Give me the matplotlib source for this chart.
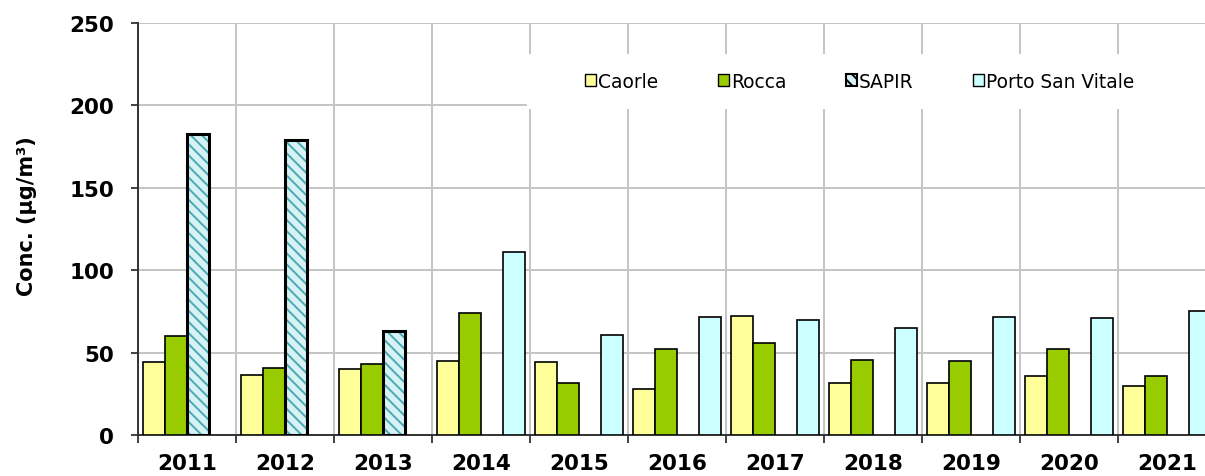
import numpy as np
import matplotlib
matplotlib.use('Agg')
import matplotlib.pyplot as plt
from matplotlib.patches import Patch, Rectangle

# Dati
anni = ['2011', '2012', '2013', '2014', '2015', '2016', '2017', '2018', '2019', '2020', '2021']
caorle = [44.0, 36.4, 40.0, 44.7, 44.1, 27.9, 72.4, 31.4, 31.4, 35.6, 29.5]
rocca = [60.0, 40.9, 43.0, 74.0, 31.4, 52.4, 55.8, 45.7, 44.9, 52.2, 35.6]
sapir = [182.6, 179.2, 63.0, np.nan, np.nan, np.nan, np.nan, np.nan, np.nan, np.nan, np.nan]
porto = [np.nan, np.nan, np.nan, 110.9, 60.7, 71.6, 70.0, 64.9, 71.6, 70.8, 75.0]

serie = ['Caorle', 'Rocca', 'SAPIR', 'Porto San Vitale']
colori = ['#ffff99', '#99cc00', '#d6f2f4', '#ccffff']

plt.rcParams['font.family'] = 'DejaVu Sans'
plt.rcParams['hatch.linewidth'] = 1.4

fig = plt.figure(figsize=(12.05, 4.77), dpi=100)
ax = fig.add_axes([0.1145, 0.086, 0.8946, 0.8637])

x = np.arange(len(anni))
w = 0.2245

ax.bar(x - 1.5 * w, caorle, w, color=colori[0], edgecolor='black', linewidth=1.2, zorder=3)
ax.bar(x - 0.5 * w, rocca, w, color=colori[1], edgecolor='black', linewidth=1.2, zorder=3)
# SAPIR: tratteggio + bordo spesso
ax.bar(x + 0.5 * w, sapir, w, color=colori[2], edgecolor='#4aa9b5', linewidth=0, hatch='\\\\\\', zorder=3)
ax.bar(x + 0.5 * w, sapir, w, fill=False, edgecolor='black', linewidth=2.2, zorder=4)
ax.bar(x + 1.5 * w, porto, w, color=colori[3], edgecolor='black', linewidth=1.2, zorder=3)

ax.set_xlim(-0.5, len(anni) - 0.5)
ax.set_ylim(0, 250)
ax.set_yticks([0, 50, 100, 150, 200, 250])
ax.set_xticks(x)
ax.set_xticklabels(anni)
ax.set_xticks(np.arange(len(anni) + 1) - 0.5, minor=True)

ax.tick_params(axis='x', which='major', length=0, pad=13, labelsize=15.5)
ax.tick_params(axis='x', which='minor', length=6, width=1.3, direction='out', color='#333333')
ax.tick_params(axis='y', length=5, width=1.3, pad=12, labelsize=15.5, color='#333333')
for lab in ax.get_xticklabels() + ax.get_yticklabels():
    lab.set_fontweight('bold')

ax.grid(axis='y', color='#c4c4c4', linewidth=1.4, zorder=0)
ax.grid(axis='x', which='minor', color='#c4c4c4', linewidth=1.4, zorder=0)
ax.set_axisbelow(True)

for s in ['top', 'right']:
    ax.spines[s].set_visible(False)
ax.spines['left'].set_color('#333333')
ax.spines['bottom'].set_color('#333333')
ax.spines['left'].set_linewidth(1.4)
ax.spines['bottom'].set_linewidth(1.4)

ax.set_ylabel('Conc. (µg/m³)', fontsize=15, fontweight='bold')
ax.yaxis.set_label_coords(-0.0937, 0.534)

# riquadro bianco della legenda
ax.add_patch(Rectangle((0.361, 0.791), 0.65, 0.1335, transform=ax.transAxes,
                       facecolor='white', edgecolor='none', zorder=2, clip_on=False))

handles = [
    Patch(facecolor=colori[0], edgecolor='black', linewidth=1),
    Patch(facecolor=colori[1], edgecolor='black', linewidth=1),
    Patch(facecolor=colori[2], edgecolor='black', linewidth=1.5, hatch='\\\\\\'),
    Patch(facecolor=colori[3], edgecolor='black', linewidth=1),
]
leg = ax.legend(handles, serie, loc='center left', bbox_to_anchor=(0.4147, 0.859), ncol=4,
                frameon=False, fontsize=13.4, handlelength=0.6, handleheight=0.6,
                handletextpad=0.1, columnspacing=3.2, borderpad=0, borderaxespad=0)
leg.set_zorder(5)

fig.savefig('out.png', dpi=100)
